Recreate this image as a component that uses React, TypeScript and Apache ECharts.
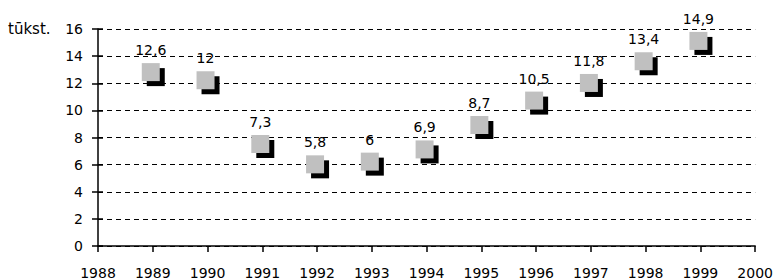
import React, { useEffect, useRef } from "react";
import * as echarts from "echarts";

const years = [1989, 1990, 1991, 1992, 1993, 1994, 1995, 1996, 1997, 1998, 1999];
const values = [12.6, 12, 7.3, 5.8, 6, 6.9, 8.7, 10.5, 11.8, 13.4, 14.9];
const unitLabel = "tūkst.";

const FONT = "DejaVu Sans";

export default function App() {
  const ref = useRef<HTMLDivElement>(null);
  useEffect(() => {
    if (!ref.current) return;
    const chart = echarts.init(ref.current, undefined, { renderer: "svg" });
    const pts = years.map((y, i) => [y, values[i]]);
    chart.setOption({
      animation: false,
      grid: { left: 98, right: 19, top: 29, bottom: 34 },
      xAxis: {
        type: "value",
        min: 1988,
        max: 2000,
        interval: 1,
        splitLine: { show: false },
        axisLine: { show: true, onZero: false, lineStyle: { color: "#000", width: 1.5 } },
        axisTick: { show: true, inside: false, length: 6, lineStyle: { color: "#000", width: 1.5 } },
        axisLabel: {
          margin: 20,
          color: "#000",
          fontFamily: FONT,
          fontSize: 14,
          formatter: (v: number) => String(v),
        },
      },
      yAxis: [
        {
          type: "value",
          min: 0,
          max: 16,
          interval: 2,
          position: "left",
          axisLine: { show: true, lineStyle: { color: "#000", width: 1.5 } },
          axisTick: { show: true, inside: false, length: 6, lineStyle: { color: "#000", width: 1.5 } },
          axisLabel: { margin: 15, color: "#000", fontFamily: FONT, fontSize: 14 },
          splitLine: { show: true, lineStyle: { color: "#000", width: 1, type: [5, 4] } },
        },
        {
          type: "value",
          min: 0,
          max: 16,
          interval: 2,
          position: "left",
          axisLine: { show: false },
          axisTick: { show: true, inside: true, length: 5, lineStyle: { color: "#000", width: 1.5 } },
          axisLabel: { show: false },
          splitLine: { show: false },
        },
      ],
      graphic: [
        {
          type: "text",
          left: 8,
          top: 21,
          style: { text: unitLabel, fill: "#000", font: `15px ${FONT}` },
        },
      ],
      series: [
        {
          type: "scatter",
          data: pts,
          symbol: "rect",
          symbolSize: 18,
          symbolOffset: [3, 2],
          itemStyle: { color: "#000", opacity: 1 },
          z: 2,
        },
        {
          type: "scatter",
          data: pts,
          symbol: "rect",
          symbolSize: 18,
          symbolOffset: [-2, -3],
          itemStyle: { color: "#c0c0c0", opacity: 1 },
          z: 3,
          label: {
            show: true,
            position: "top",
            distance: 6,
            color: "#000",
            fontFamily: FONT,
            fontSize: 14,
            formatter: (p: any) => String(p.value[1]).replace(".", ","),
          },
        },
      ],
    });
    return () => chart.dispose();
  }, []);
  return (
    <div
      ref={ref}
      style={{ position: "absolute", left: 0, top: 0, width: 776, height: 280 }}
    />
  );
}
